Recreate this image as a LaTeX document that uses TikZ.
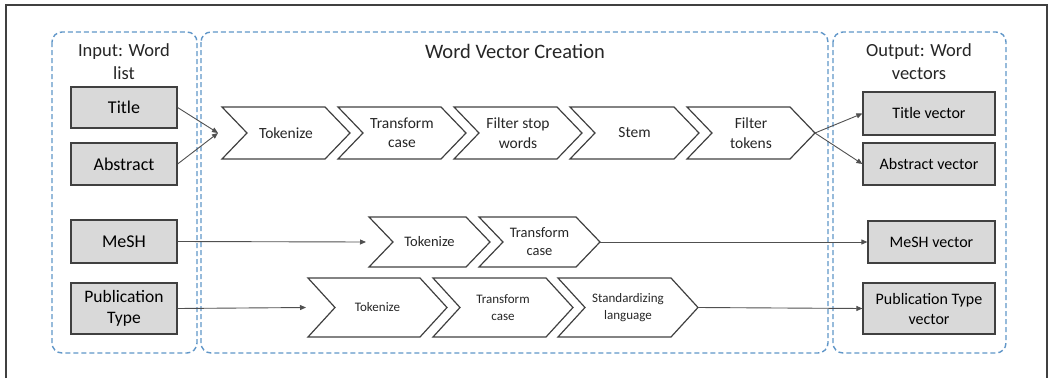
\documentclass[tikz,border=0pt]{standalone}
\usepackage{fontspec}
\setmainfont{Carlito}
\usetikzlibrary{arrows.meta}
\definecolor{dblue}{RGB}{96,150,200}
\definecolor{boxgray}{RGB}{217,217,217}
\definecolor{edge}{RGB}{64,64,64}
\definecolor{arr}{RGB}{80,80,80}
\tikzset{
  container/.style={draw=dblue, line width=1.4pt, dash pattern=on 5pt off 3pt, rounded corners=10pt},
  inbox/.style={draw=edge, fill=boxgray, line width=1.2pt, minimum width=106pt, align=center, inner sep=0pt, font=\fontsize{18}{21}\selectfont},
  outbox/.style={draw=edge, fill=boxgray, line width=1.2pt, minimum width=132pt, align=center, inner sep=0pt, font=\fontsize{16}{20}\selectfont},
  ttl/.style={align=center, font=\fontsize{18.5}{23}\selectfont, text=black!85},
  chevline/.style={draw=edge, line width=1.2pt, line join=miter},
  chevtext/.style={align=center, inner sep=0pt, text=black!85},
  conn/.style={draw=arr, line width=0.9pt, -{Triangle[length=6pt,width=5pt]}},
  plain/.style={draw=arr, line width=0.9pt}
}
% name, left x, center y, width (left to tip), half height, depth, text, font size
\newcommand\chev[8]{%
  \draw[chevline] (#2,#3-#5) -- ++(#4-#6,0) -- ++(#6,#5) -- ++(-#6,#5) -- ++(-#4+#6,0) -- ++(#6,-#5) -- cycle;
  \node[chevtext, font=\fontsize{#8}{\dimexpr #8pt*5/4\relax}\selectfont] (#1) at ({#2+#4/2},#3) {#7};
  \coordinate (#1-in) at (#2,#3);
  \coordinate (#1-out) at ({#2+#4},#3);
}
\begin{document}
\begin{tikzpicture}[x=1pt,y=-1pt]
\useasboundingbox (0,0) rectangle (1050,378);
% frame
\draw[draw=black!75, line width=1.3pt] (6,378) -- (6,5) -- (1047,5) -- (1047,378);
% containers
\draw[container] (52,32) rectangle (197,353);
\draw[container] (201,32) rectangle (828,353);
\draw[container] (833,32) rectangle (1006,353);
% titles
\node[ttl] (tin) at (124,62) {Input: Word\\list};
\node[ttl, font=\fontsize{20.5}{24}\selectfont] (tmid) at (515,51) {Word Vector Creation};
\node[ttl] (tout) at (919,62) {Output: Word\\vectors};
% input boxes
\node[inbox, minimum height=41pt] (title) at (124,107.5) {Title};
\node[inbox, minimum height=42pt] (abstract) at (124,164) {Abstract};
\node[inbox, minimum height=43pt] (mesh) at (124,241.5) {MeSH};
\node[inbox, minimum height=51pt, font=\fontsize{17.5}{21}\selectfont] (pub) at (124,308.5) {Publication\\Type};
% output boxes
\node[outbox, minimum height=43pt] (tv) at (929,113.5) {Title vector};
\node[outbox, minimum height=42pt] (av) at (929,164) {Abstract vector};
\node[outbox, minimum height=42pt, minimum width=127pt] (mv) at (931.5,242) {MeSH vector};
\node[outbox, minimum height=51pt] (pv) at (929,308.5) {Publication Type\\vector};
% row 1 chevrons
\chev{a1}{222}{133}{128}{26}{25}{Tokenize}{15.5}
\chev{a2}{338}{133}{128}{26}{25}{Transform\\case}{15.5}
\chev{a3}{454}{133}{128}{26}{25}{Filter stop\\words}{15.5}
\chev{a4}{570}{133}{129}{26}{25}{Stem}{15.5}
\chev{a5}{687}{133}{128}{26}{25}{Filter\\tokens}{15.5}
% row 2 chevrons
\chev{b1}{369}{242}{121}{25}{24}{Tokenize}{14.5}
\chev{b2}{479}{242}{121}{25}{24}{Transform\\case}{14.5}
% row 3 chevrons
\chev{c1}{308}{307.5}{139}{29.5}{27}{Tokenize}{13}
\chev{c2}{433}{307.5}{140}{29.5}{27}{Transform\\case}{13}
\chev{c3}{558}{307.5}{140}{29.5}{27}{Standardizing\\language}{13}
% connectors
\coordinate (join) at (218,133);
\draw[conn] (title.east) -- (join);
\draw[conn] (abstract.east) -- (join);
\draw[conn] (a5-out) -- (tv.west);
\draw[conn] (a5-out) -- (av.west);
\draw[conn] (mesh.east) -- ([xshift=-3pt]b1-in);
\draw[conn] (b2-out) -- (mv.west);
\draw[conn] (pub.east) -- ([xshift=-2pt]c1-in);
\draw[conn] (c3-out) -- (pv.west);
\end{tikzpicture}
\end{document}
